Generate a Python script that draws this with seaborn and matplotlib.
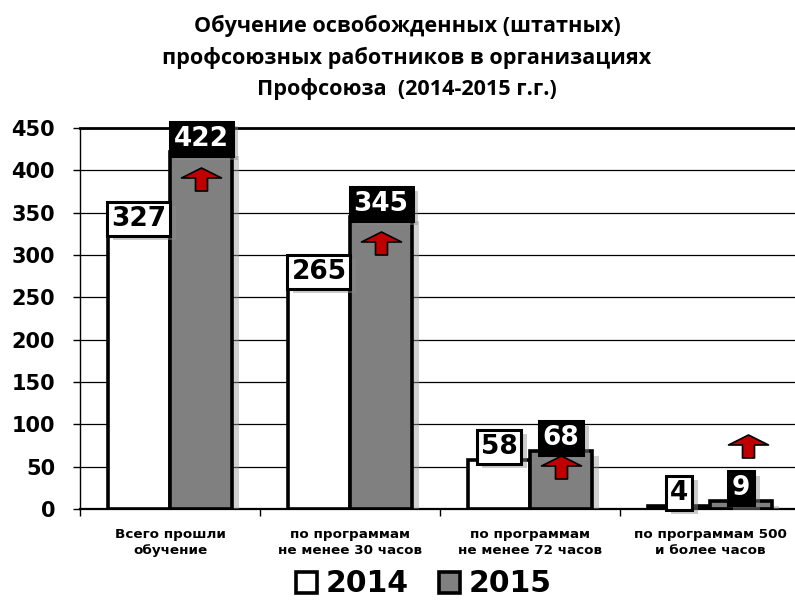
import matplotlib
matplotlib.use("Agg")
import matplotlib.pyplot as plt
import matplotlib.patheffects as pe
from matplotlib.path import Path
from matplotlib.patches import Patch
from matplotlib.transforms import ScaledTranslation
import seaborn as sns
import pandas as pd

# ---- data ----
categories = [
    "Всего прошли\nобучение",
    "по программам\nне менее 30 часов",
    "по программам\nне менее 72 часов",
    "по программам 500\nи более часов",
]
years = ["2014", "2015"]
values_2014 = [327, 265, 58, 4]
values_2015 = [422, 345, 68, 9]
y_ticks = [0, 50, 100, 150, 200, 250, 300, 350, 400, 450]
title = ("Обучение освобожденных (штатных)\n"
         "профсоюзных работников в организациях\n"
         "Профсоюза  (2014-2015 г.г.)")

df = pd.DataFrame({
    "category": categories * 2,
    "year": [years[0]] * len(categories) + [years[1]] * len(categories),
    "value": values_2014 + values_2015,
})

sns.set_style("white")
plt.rcParams["font.family"] = ["DejaVu Sans"]
plt.rcParams["font.weight"] = "bold"
for key in ["text.color", "axes.labelcolor", "xtick.color", "ytick.color"]:
    plt.rcParams[key] = "black"

fig = plt.figure(figsize=(7.95, 6.02), dpi=100)
ax = fig.add_axes([80 / 795, 93 / 602, 720 / 795, 381 / 602])

palette = {"2014": "white", "2015": "#808080"}
sns.barplot(data=df, x="category", y="value", hue="year", order=categories,
            hue_order=years, palette=palette, edgecolor="black", linewidth=2.6,
            width=0.69, gap=0, legend=False, ax=ax, zorder=3)

shadow = [pe.SimplePatchShadow(offset=(5, -3), shadow_rgbFace="0.6", alpha=0.45),
          pe.Normal()]
for p in ax.patches:
    p.set_path_effects(shadow)

# axes styling
ax.set_xlim(-0.5, 3.5)
ax.set_ylim(0, 450)
ax.set_yticks(y_ticks)
ax.set_xlabel("")
ax.set_ylabel("")
ax.set_axisbelow(True)
ax.yaxis.grid(True, color="black", linewidth=0.9)
ax.spines["right"].set_visible(False)
for side in ["top", "left", "bottom"]:
    ax.spines[side].set_color("black")
ax.spines["top"].set_linewidth(2.0)
ax.spines["left"].set_linewidth(1.0)
ax.spines["bottom"].set_linewidth(1.6)
ax.tick_params(axis="y", direction="out", length=5, width=1, pad=13,
               labelsize=15, left=True)
for lab in ax.get_yticklabels():
    lab.set_fontweight("bold")
ax.set_xticks([-0.5, 0.5, 1.5, 2.5], minor=True)
ax.tick_params(axis="x", which="minor", direction="out", length=5, width=1, bottom=True)
ax.tick_params(axis="x", which="major", length=0, pad=14, labelsize=9.7)
for lab in ax.get_xticklabels():
    lab.set_fontweight("bold")
    lab.set_linespacing(1.25)

# value labels in boxes above each bar
box_shadow = [pe.SimplePatchShadow(offset=(4, -3), shadow_rgbFace="0.55", alpha=0.45),
              pe.Normal()]
label_styles = [
    dict(color="black", bbox=dict(boxstyle="square,pad=0.15", fc="white", ec="black", lw=2.2)),
    dict(color="white", bbox=dict(boxstyle="square,pad=0.15", fc="black", ec="black", lw=2.2)),
]
series = [values_2014, values_2015]
for container, vals, style in zip(ax.containers, series, label_styles):
    for bar, v in zip(container, vals):
        cx = bar.get_x() + bar.get_width() / 2
        t = ax.text(cx, v, f"{v}", ha="center", va="bottom", fontsize=19,
                    fontweight="bold", zorder=5, **style)
        t.get_bbox_patch().set_path_effects(box_shadow)

# red "growth" arrows on the 2015 bars
arrow_path = Path([(-20, 1.5), (0, 11.5), (20, 1.5), (6, 1.5), (6, -11.5),
                   (-6, -11.5), (-6, 1.5), (-20, 1.5)], closed=True)
arrow_offsets_px = [(0, -27), (0, -26), (0, -16), (7, 55)]
for bar, v, (dx, dy) in zip(ax.containers[1], values_2015, arrow_offsets_px):
    cx = bar.get_x() + bar.get_width() / 2
    tr = ax.transData + ScaledTranslation(dx / 100, dy / 100, fig.dpi_scale_trans)
    ax.scatter([cx], [v], marker=arrow_path, s=(40 * 0.72) ** 2, c="#c00000",
               edgecolors="black", linewidths=1.2, transform=tr, zorder=6,
               clip_on=False)

# title
fig.text(407 / 795, 1 - 15 / 602, title, ha="center", va="top",
         family=["Open Sans", "DejaVu Sans"], fontweight="bold", fontsize=15.6,
         linespacing=1.55, color="black")

# legend
handles = [Patch(facecolor=palette[y], edgecolor="black", linewidth=2.6, label=y)
           for y in years]
fig.legend(handles=handles, loc="center", bbox_to_anchor=(424 / 795, 18 / 602),
           ncol=2, frameon=False, prop=dict(weight="bold", size=21.5),
           handlelength=0.7, handleheight=0.7, handletextpad=0.3,
           columnspacing=1.0)

fig.savefig("out.png", dpi=100)
